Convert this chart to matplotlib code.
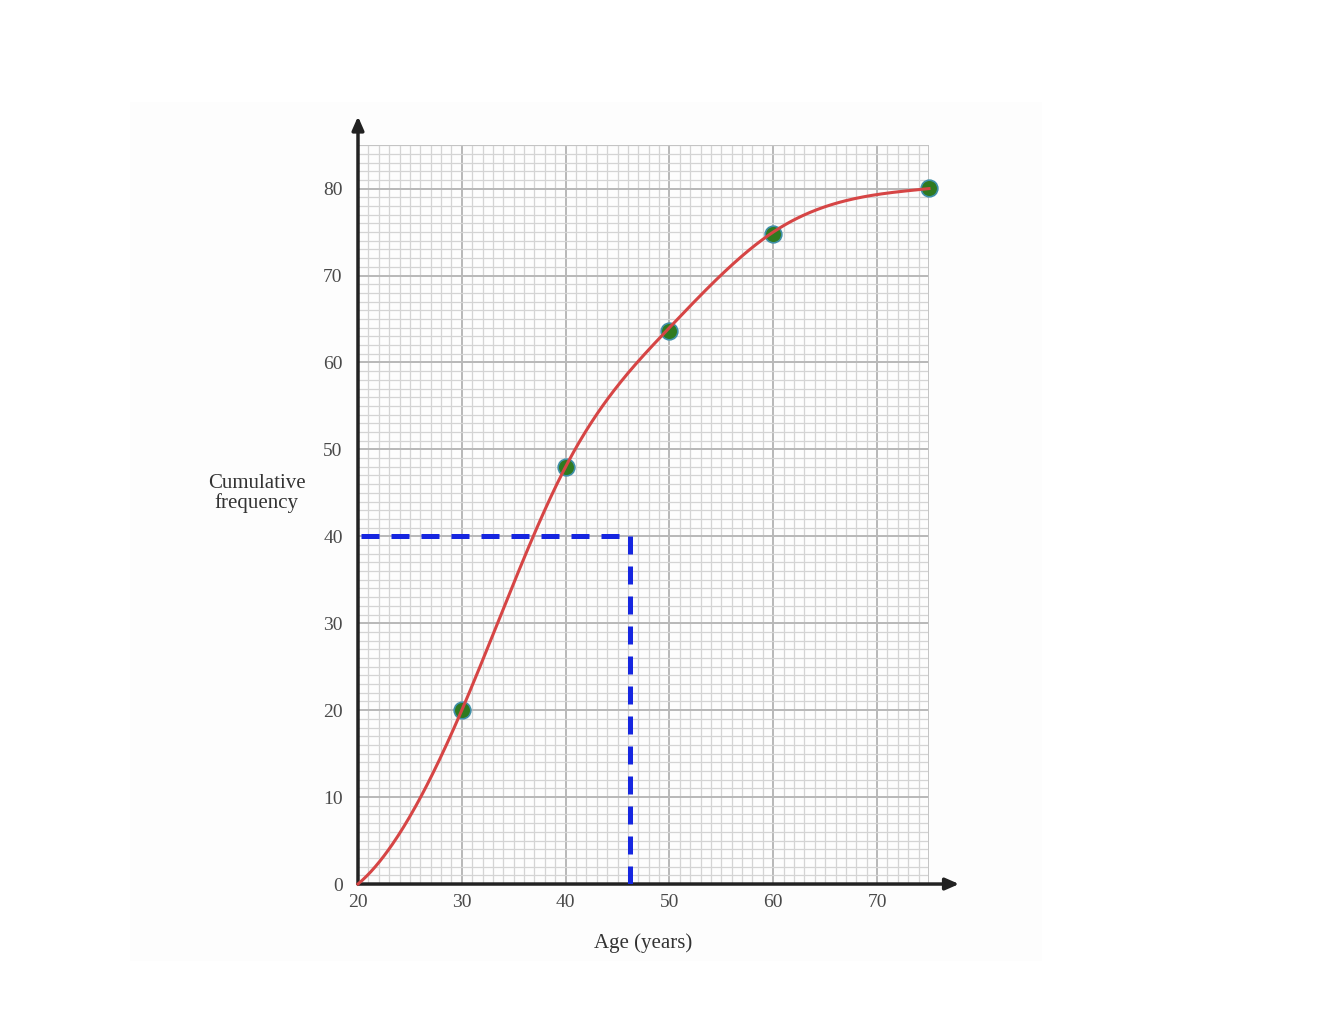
import numpy as np
import matplotlib.pyplot as plt
from matplotlib.patches import Rectangle

plt.rcParams['font.family'] = ['Liberation Serif', 'DejaVu Serif']

# cumulative frequency data
ages = [20, 30, 40, 50, 60, 75]
cum_freq = [0, 20, 48, 64, 75, 80]
plotted_ages = [30, 40, 50, 60, 75]
plotted_freq = [20, 48, 63.6, 74.8, 80.1]

# median reading
median_freq = 40
median_age = 46.2

x_ticks = [20, 30, 40, 50, 60, 70]
y_ticks = [0, 10, 20, 30, 40, 50, 60, 70, 80]


def clamped_spline(x, y, xs, s0, s1):
    # cubic spline through the points with fixed end slopes
    x = np.asarray(x, float)
    y = np.asarray(y, float)
    n = len(x)
    h = np.diff(x)
    A = np.zeros((n, n))
    b = np.zeros(n)
    A[0, 0], A[0, 1] = 2 * h[0], h[0]
    b[0] = 6 * ((y[1] - y[0]) / h[0] - s0)
    A[-1, -2], A[-1, -1] = h[-1], 2 * h[-1]
    b[-1] = 6 * (s1 - (y[-1] - y[-2]) / h[-1])
    for i in range(1, n - 1):
        A[i, i - 1] = h[i - 1]
        A[i, i] = 2 * (h[i - 1] + h[i])
        A[i, i + 1] = h[i]
        b[i] = 6 * ((y[i + 1] - y[i]) / h[i] - (y[i] - y[i - 1]) / h[i - 1])
    M = np.linalg.solve(A, b)
    idx = np.clip(np.searchsorted(x, xs) - 1, 0, n - 2)
    hi = h[idx]
    a = x[idx + 1] - xs
    c = xs - x[idx]
    return (M[idx] * a**3 / (6 * hi) + M[idx + 1] * c**3 / (6 * hi)
            + (y[idx] / hi - M[idx] * hi / 6) * a
            + (y[idx + 1] / hi - M[idx + 1] * hi / 6) * c)


fig = plt.figure(figsize=(13.22, 10.22), dpi=100)
fig.patches.append(Rectangle((0.098, 0.06), 0.69, 0.84, transform=fig.transFigure,
                             facecolor='#fdfdfd', edgecolor='none', zorder=-10))
ax = fig.add_axes([0.2708, 0.135, 0.4319, 0.723])
ax.patch.set_alpha(0)

ax.set_xlim(20, 75)
ax.set_ylim(0, 85)
ax.set_xticks(x_ticks)
ax.set_yticks(y_ticks)
ax.set_xticks(np.arange(20, 76, 1), minor=True)
ax.set_yticks(np.arange(0, 86, 1), minor=True)
ax.grid(which='major', color='#b8b8b8', linewidth=1.4)
ax.grid(which='minor', color='#d4d4d4', linewidth=0.9)
ax.set_axisbelow(True)
ax.tick_params(which='both', length=0)
ax.tick_params(axis='x', pad=7, labelsize=14, labelcolor='#4a4a4a')
ax.tick_params(axis='y', pad=11, labelsize=14, labelcolor='#4a4a4a')

for s in ['top', 'right', 'left', 'bottom']:
    ax.spines[s].set_visible(False)

# frame at the grid's outer edges
ax.axhline(85, color='#c4c4c4', lw=1.4)
ax.axvline(75, color='#c4c4c4', lw=1.4)

# axes with arrows
ax.annotate('', xy=(20, 88.3), xytext=(20, 0), annotation_clip=False,
            arrowprops=dict(arrowstyle='-|>,head_width=0.35,head_length=0.8',
                            color='#222222', lw=2.5, shrinkA=0, shrinkB=0))
ax.annotate('', xy=(77.9, 0), xytext=(20, 0), annotation_clip=False,
            arrowprops=dict(arrowstyle='-|>,head_width=0.35,head_length=0.8',
                            color='#222222', lw=2.5, shrinkA=0, shrinkB=0))

xs = np.linspace(ages[0], ages[-1], 400)
ax.plot(plotted_ages, plotted_freq, 'o', color='#2f7a1f', markeredgecolor='#3f8fa8',
        markeredgewidth=1.2, markersize=12, zorder=3, clip_on=False)
ax.plot(xs, clamped_spline(ages, cum_freq, xs, 1.0, 0.12), color='#d64545', lw=2.2,
        zorder=4, clip_on=False)

ax.plot([20.3, median_age], [median_freq, median_freq], color='#1626e0', lw=3.6,
        dashes=(3.6, 2.4), zorder=5)
ax.plot([median_age, median_age], [median_freq, 0], color='#1626e0', lw=3.6,
        dashes=(3.6, 2.4), zorder=5)

ax.set_xlabel('Age (years)', fontsize=15, color='#333333', labelpad=16)
fig.text(0.194, 0.517, 'Cumulative\nfrequency', ha='center', va='center',
         fontsize=15, color='#333333', linespacing=1.05)

fig.savefig('out.png', dpi=100)
